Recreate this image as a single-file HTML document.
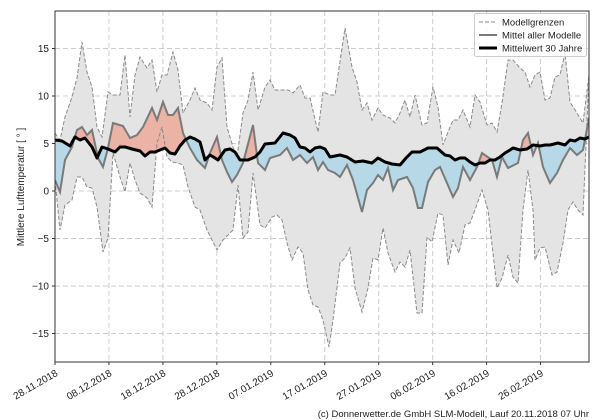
<!DOCTYPE html>
<html><head><meta charset="utf-8"><style>
html,body{margin:0;padding:0;background:#fff;}
svg{display:block;font-family:"Liberation Sans","DejaVu Sans",sans-serif;}
</style></head><body>
<svg id="s" width="600" height="420" xmlns="http://www.w3.org/2000/svg">
<defs>
<clipPath id="ax"><rect x="55" y="11" width="534" height="351"/></clipPath>
<clipPath id="above"><polygon id="capoly"/></clipPath>
<clipPath id="below"><polygon id="cbpoly"/></clipPath>
</defs>
<g id="grid"></g>
<g clip-path="url(#ax)">
<polygon id="band" fill="#e4e4e4"/>
<polygon id="red" fill="#eab3a6" clip-path="url(#above)"/>
<polygon id="blue" fill="#b7d9e7" clip-path="url(#below)"/>
<polyline id="up" fill="none" stroke="#8a8a8a" stroke-width="1" stroke-dasharray="4,2"/>
<polyline id="lo" fill="none" stroke="#8a8a8a" stroke-width="1" stroke-dasharray="4,2"/>
<polyline id="mean" fill="none" stroke="#7a7a7a" stroke-width="2"/>
<polyline id="clim" fill="none" stroke="#000" stroke-width="3" stroke-linejoin="round"/>
</g>
<rect x="55" y="11" width="534" height="351" fill="none" stroke="#333" stroke-width="1"/>
<g id="ticks" font-size="10" fill="#222"></g>
<text transform="translate(24,187) rotate(-90)" text-anchor="middle" font-size="10" fill="#222">Mittlere Lufttemperatur [ ° ]</text>
<g>
<rect x="474.5" y="13.5" width="112" height="43" fill="#fff" fill-opacity="0.85" stroke="#ccc" rx="2"/>
<line x1="479" y1="22" x2="497" y2="22" stroke="#8a8a8a" stroke-dasharray="4,2"/>
<line x1="479" y1="35" x2="497" y2="35" stroke="#7a7a7a" stroke-width="2"/>
<line x1="479" y1="48" x2="497" y2="48" stroke="#000" stroke-width="3"/>
<text x="502" y="25.5" font-size="9.5" fill="#222">Modellgrenzen</text>
<text x="502" y="38.5" font-size="9.5" fill="#222">Mittel aller Modelle</text>
<text x="502" y="51.5" font-size="9.5" fill="#222">Mittelwert 30 Jahre</text>
</g>
<text x="589" y="417" text-anchor="end" font-size="9.5" fill="#222">(c) Donnerwetter.de GmbH SLM-Modell, Lauf 20.11.2018 07 Uhr</text>
</svg>
<script>
function P(a){var r=[];for(var i=0;i<a.length;i+=2)r.push([a[i],a[i+1]]);return r;}
var up=P([55,133,60,140,65,117,72,97,77,78,82,42,87,72,92,87,97,127,102,137,108,92,113,95,120,95,125,55,130,117,135,75,140,57,147,68,152,60,157,92,162,75,167,75,173,52,178,70,183,113,190,100,195,88,200,100,207,103,212,110,217,67,222,58,227,127,233,147,237,157,243,113,248,100,253,72,258,110,265,87,270,80,275,90,282,90,288,90,293,93,300,85,305,98,310,98,318,132,323,92,330,95,335,95,345,28,352,67,357,82,362,110,367,103,372,120,378,108,383,115,390,118,395,123,400,113,405,100,410,117,415,95,422,125,427,123,433,87,438,107,443,145,448,132,453,120,458,120,463,110,470,127,475,95,480,102,487,125,492,123,497,132,502,103,508,60,513,60,520,68,525,72,530,87,535,75,540,72,545,100,550,98,555,77,560,75,565,53,570,102,577,113,583,123,589,75]);
var lo=P([55,180,60,230,65,205,72,200,77,177,82,177,87,187,92,188,97,207,103,252,108,238,113,153,120,177,125,192,130,163,135,180,140,193,147,198,152,207,157,143,162,127,167,157,172,162,178,163,183,165,188,187,195,207,200,210,207,230,217,250,223,240,233,230,238,185,243,238,248,232,253,173,258,210,260,225,265,228,272,217,277,215,282,220,287,243,292,260,298,247,303,253,308,290,313,305,318,307,323,320,329,347,333,320,340,263,345,258,350,248,355,288,362,312,368,288,373,258,378,260,383,228,388,253,395,272,400,262,405,267,410,250,417,313,422,313,427,237,432,242,438,213,443,215,448,265,453,240,459,253,465,225,470,223,475,210,482,190,488,210,497,288,502,278,508,255,513,277,518,283,523,210,528,170,533,210,535,260,540,248,545,247,552,275,557,272,563,243,568,210,573,202,578,210,583,215,589,75]);
var mean=P([55,180,60,192,65,160,72,147,77,130,82,127,87,135,92,130,98,158,103,167,108,148,113,123,123,126,130,138,137,135,143,127,152,108,157,120,163,102,168,115,173,115,178,108,183,133,190,148,197,160,205,168,210,153,217,137,222,160,227,172,232,182,237,175,243,163,253,125,258,163,265,170,270,158,280,155,287,148,293,160,300,155,307,163,313,157,318,170,323,162,328,170,335,173,340,177,347,165,353,180,362,212,367,190,373,183,378,175,383,180,388,168,393,190,398,180,407,177,413,188,418,208,422,208,428,182,435,170,440,167,447,183,453,197,458,188,463,167,470,180,477,167,482,153,492,160,497,177,502,157,508,168,518,163,523,140,528,133,533,155,538,143,543,167,550,183,557,173,563,160,570,148,577,155,583,150,589,118]);
var clim=P([55,140,62,141,70,146,75,137,80,140,85,138,92,147,97,158,102,147,108,149,115,152,120,147,125,147,132,149,140,151,145,156,150,152,155,152,160,150,165,148,170,153,175,154,180,146,185,140,190,137,195,139,200,142,205,160,210,155,215,158,218,160,225,150,230,149,235,152,240,160,248,160,255,157,260,152,265,144,275,143,283,133,290,135,295,138,300,147,305,148,310,152,315,148,320,147,325,149,330,157,340,155,347,157,355,162,363,161,372,163,378,158,385,162,392,164,400,165,406,158,412,152,420,152,428,148,437,148,445,155,450,156,455,160,460,158,465,158,470,162,475,165,480,163,485,163,490,160,495,160,500,157,505,153,510,150,513,148,520,150,527,149,533,145,540,146,545,145,550,145,558,143,565,145,570,140,575,141,580,138,585,139,589,137]);
function S(a){return a.map(function(p){return p[0]+','+p[1];}).join(' ');}
function $(i){return document.getElementById(i);}
$('up').setAttribute('points',S(up));
$('lo').setAttribute('points',S(lo));
$('mean').setAttribute('points',S(mean));
$('clim').setAttribute('points',S(clim));
$('band').setAttribute('points',S(up.concat(lo.slice().reverse())));
var area=S(mean.concat(clim.slice().reverse()));
$('red').setAttribute('points',area);$('blue').setAttribute('points',area);
$('capoly').setAttribute('points',S([[55,0]].concat(clim).concat([[589,0]])));
$('cbpoly').setAttribute('points',S([[55,420]].concat(clim).concat([[589,420]])));
var ns='http://www.w3.org/2000/svg';
function el(n,a,p,t){var e=document.createElementNS(ns,n);for(var k in a)e.setAttribute(k,a[k]);if(t)e.textContent=t;p.appendChild(e);return e;}
var g=$('grid'),tk=$('ticks');
[15,10,5,0,-5,-10,-15].forEach(function(v){var y=191-9.5*v;
el('line',{x1:55,x2:589,y1:y,y2:y,stroke:'#cccccc','stroke-dasharray':'5,3'},g);
el('line',{x1:52,x2:55,y1:y,y2:y,stroke:'#333'},tk);
el('text',{x:49,y:y+3.5,'text-anchor':'end'},tk,v<0?'\u2212'+(-v):''+v);});
var d=['28.11.2018','08.12.2018','18.12.2018','28.12.2018','07.01.2019','17.01.2019','27.01.2019','06.02.2019','16.02.2019','26.02.2019'];
d.forEach(function(s,i){var x=55+i*53.95;
if(i>0)el('line',{x1:x,x2:x,y1:11,y2:362,stroke:'#cccccc','stroke-dasharray':'5,3'},g);
el('line',{x1:x,x2:x,y1:362,y2:365,stroke:'#333'},tk);
el('text',{x:x,y:369,'text-anchor':'end',transform:'rotate(-30 '+x+' 369)'},tk,s).setAttribute('dy','0.7em');});
</script>
</body></html>
